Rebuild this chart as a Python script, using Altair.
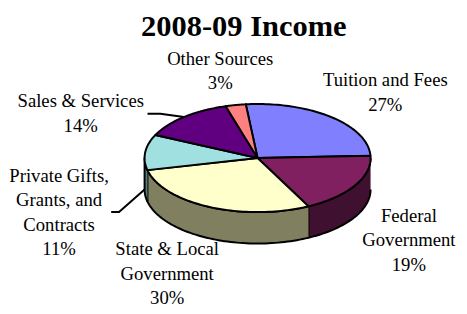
import math
import altair as alt
import pandas as pd

# ---- data ----
categories = ["Tuition and Fees", "Federal Government", "State & Local Government",
              "Private Gifts, Grants, and Contracts", "Sales & Services", "Other Sources"]
values = [27, 19, 30, 11, 14, 3]
label_text = ["Tuition and Fees\n27%", "Federal\nGovernment\n19%", "State & Local\nGovernment\n30%",
              "Private Gifts,\nGrants, and\nContracts\n11%", "Sales & Services\n14%", "Other Sources\n3%"]
title_text = "2008-09 Income"
top_colors = ["#8080FF", "#802060", "#FFFFCC", "#A0E0E0", "#600080", "#FF8080"]
side_colors = ["#404080", "#401030", "#808060", "#508080", "#300040", "#804040"]

# ---- layout ----
RX, RY, DEPTH = 115, 55, 32
START = math.radians(-6)
N = 64
label_x = [130, 154, -92, -202, -180, -38]
label_y = [73, -65, -99, -24, 52, 95]
title_pos = (-14, 124.5)
leader_cats = ["Private Gifts, Grants, and Contracts", "Sales & Services"]
leader_start = [(-149, -55), (-112, 45)]
leader_elbow = [8, 13]

W, H = 459, 306
xscale = alt.Scale(domain=[-254, W - 254], nice=False, zero=False)
yscale = alt.Scale(domain=[150 - H, 150], nice=False, zero=False)

slices = pd.DataFrame({
    "category": categories, "value": values, "order": list(range(len(values))),
    "top": top_colors, "side": side_colors,
})

base = alt.Chart(slices).transform_joinaggregate(
    total="sum(value)"
).transform_window(
    cum="sum(value)", sort=[alt.SortField("order")], frame=[None, 0]
).transform_calculate(
    a0=f"{START} + 2*PI*(datum.cum - datum.value)/datum.total",
    a1=f"{START} + 2*PI*datum.cum/datum.total",
)

X = alt.X("px:Q", scale=xscale, axis=None)
Y = alt.Y("py:Q", scale=yscale, axis=None)

top = base.transform_calculate(
    steps=f"sequence(0, {N + 3})"
).transform_flatten(["steps"], as_=["step"]).transform_calculate(
    ang=f"datum.a0 + (datum.a1 - datum.a0) * clamp(datum.step - 1, 0, {N}) / {N}",
    edge=f"(datum.step >= 1 && datum.step <= {N + 1}) ? 1 : 0",
).transform_calculate(
    px=f"datum.edge * {RX} * sin(datum.ang)",
    py=f"datum.edge * {RY} * cos(datum.ang)",
).mark_line(stroke="black", strokeWidth=2, strokeJoin="round").encode(
    x=X, y=Y, order="step:Q", detail="category:N",
    fill=alt.Fill("top:N", scale=None),
)

side = base.transform_calculate(
    s0="max(datum.a0, PI/2)", s1="min(datum.a1, 3*PI/2)"
).transform_filter("datum.s1 > datum.s0").transform_calculate(
    steps=f"sequence(0, {2 * N + 2})"
).transform_flatten(["steps"], as_=["step"]).transform_calculate(
    lower=f"datum.step > {N} ? 1 : 0",
    k=f"datum.step > {N} ? ({2 * N + 1} - datum.step) : datum.step",
).transform_calculate(
    ang=f"datum.s0 + (datum.s1 - datum.s0) * datum.k / {N}",
).transform_calculate(
    px=f"{RX} * sin(datum.ang)",
    py=f"{RY} * cos(datum.ang) - {DEPTH} * datum.lower",
).mark_line(stroke="black", strokeWidth=2, strokeJoin="round").encode(
    x=X, y=Y, order="step:Q", detail="category:N",
    fill=alt.Fill("side:N", scale=None),
)

# leader lines: from label to slice (end derived from the slice angles)
total = sum(values)
rows = []
cum = 0
angles = {}
for c, v in zip(categories, values):
    a0 = START + 2 * math.pi * cum / total
    cum += v
    a1 = START + 2 * math.pi * cum / total
    angles[c] = (a0, a1)
for c, (sx, sy), el in zip(leader_cats, leader_start, leader_elbow):
    a0, a1 = angles[c]
    mid = (a0 + a1) / 2
    s0, s1 = max(a0, math.pi / 2), min(a1, 3 * math.pi / 2)
    if s1 > s0:
        a = min(max(mid, s0), s1)
        ex, ey = RX * math.sin(a), RY * math.cos(a) - DEPTH
    else:
        ex, ey = RX * math.sin(mid), RY * math.cos(mid)
    rows += [
        {"category": c, "step": 0, "px": sx, "py": sy},
        {"category": c, "step": 1, "px": sx + el, "py": sy},
        {"category": c, "step": 2, "px": ex, "py": ey},
    ]
leaders = alt.Chart(pd.DataFrame(rows)).mark_line(color="black", strokeWidth=2).encode(
    x=X, y=Y, order="step:Q", detail="category:N"
)

labels = alt.Chart(pd.DataFrame({"px": label_x, "py": label_y, "text": label_text})).mark_text(
    font="Liberation Serif", fontSize=19, lineHeight=25, lineBreak="\n",
    align="center", baseline="alphabetic", color="black",
).encode(x=X, y=Y, text="text:N")

title = alt.Chart(pd.DataFrame({"px": [title_pos[0]], "py": [title_pos[1]], "text": [title_text]})).mark_text(
    font="Liberation Serif", fontSize=31, fontWeight="bold",
    align="center", baseline="alphabetic", color="black",
).encode(x=X, y=Y, text="text:N")

chart = alt.layer(side, top, leaders, labels, title).properties(
    width=W, height=H,
    autosize="none",
    padding=0,
).configure_view(stroke=None)

chart.save("out.html", embed_options={"renderer": "svg", "actions": False})
